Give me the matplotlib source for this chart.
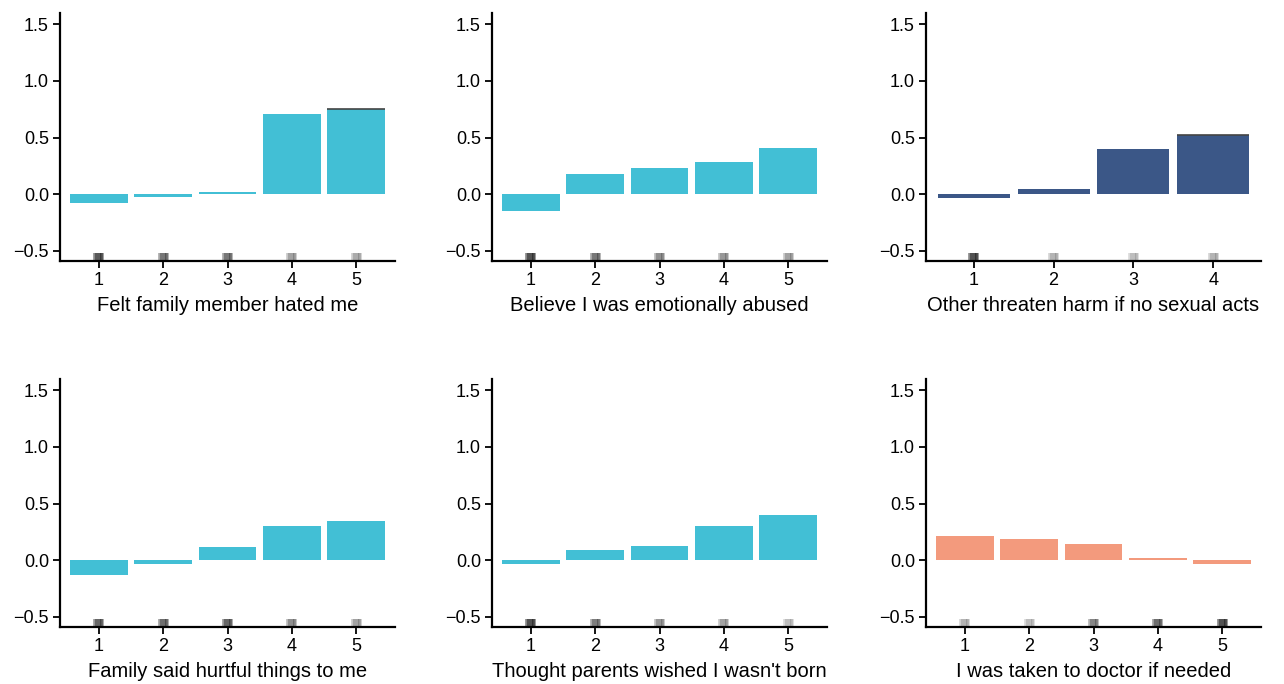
import numpy as np
import matplotlib
matplotlib.use('Agg')
import matplotlib.pyplot as plt

plt.rcParams['font.family'] = ['Liberation Sans', 'DejaVu Sans']

# item labels and mean z-scores per response level
labels = ['Felt family member hated me', 'Believe I was emotionally abused',
          'Other threaten harm if no sexual acts', 'Family said hurtful things to me',
          "Thought parents wished I wasn't born", 'I was taken to doctor if needed']
levels = [[1, 2, 3, 4, 5], [1, 2, 3, 4, 5], [1, 2, 3, 4],
          [1, 2, 3, 4, 5], [1, 2, 3, 4, 5], [1, 2, 3, 4, 5]]
means = [[-0.08, -0.025, 0.02, 0.71, 0.755],
         [-0.15, 0.18, 0.235, 0.28, 0.41],
         [-0.03, 0.05, 0.395, 0.52],
         [-0.13, -0.03, 0.115, 0.30, 0.345],
         [-0.03, 0.09, 0.125, 0.30, 0.40],
         [0.21, 0.19, 0.14, 0.015, -0.03]]
# darkness of the rug at each level (more respondents -> darker)
rug_shade = [[0.9, 0.7, 0.7, 0.45, 0.4],
             [0.95, 0.7, 0.55, 0.5, 0.45],
             [0.95, 0.35, 0.3, 0.35],
             [0.8, 0.75, 0.8, 0.55, 0.45],
             [0.95, 0.65, 0.5, 0.45, 0.3],
             [0.35, 0.3, 0.6, 0.75, 0.95]]
colors = ['#42BFD5', '#42BFD5', '#3B5787', '#42BFD5', '#42BFD5', '#F39A7D']
capped = [4, None, 3, None, None, None]  # bars with a thin outline on top

W, H = 1284, 684
fig = plt.figure(figsize=(W / 100, H / 100), dpi=100)

xs = [60, 492, 926]
ys = [13, 379]
aw, ah = 335, 248
jit_px = [-3.5, -1.5, 0.5, 2.5, 3.5]  # rug jitter in pixels

for i in range(6):
    r, c = divmod(i, 3)
    ax = fig.add_axes([xs[c] / W, 1 - (ys[r] + ah) / H, aw / W, ah / H])
    lv = np.array(levels[i])
    m = np.array(means[i])
    ax.bar(lv, m, width=0.9, color=colors[i], zorder=2)
    if capped[i] is not None:
        k = capped[i]
        ax.hlines(m[k], lv[k] - 0.45, lv[k] + 0.45, color='#444444', lw=1.2, zorder=3)
    ppu = aw / (len(lv) + 0.2)
    for x, s in zip(lv, rug_shade[i]):
        for d in jit_px:
            ax.vlines(x + d / ppu, -0.59, -0.52, color='black', alpha=s * 0.5, lw=2.6, zorder=4)
    ax.set_xlim(0.4, len(lv) + 0.6)
    ax.set_ylim(-0.59, 1.6)
    ax.set_xticks(lv)
    ax.set_yticks([-0.5, 0, 0.5, 1.0, 1.5])
    ax.set_yticklabels(['\u22120.5', '0.0', '0.5', '1.0', '1.5'])
    ax.tick_params(labelsize=13, length=5, width=1.3, color='black', pad=3)
    for side in ['top', 'right']:
        ax.spines[side].set_visible(False)
    for side in ['left', 'bottom']:
        ax.spines[side].set_linewidth(1.6)
    ax.set_xlabel(labels[i], fontsize=14.5, labelpad=5)

plt.savefig('out.png', dpi=100)
